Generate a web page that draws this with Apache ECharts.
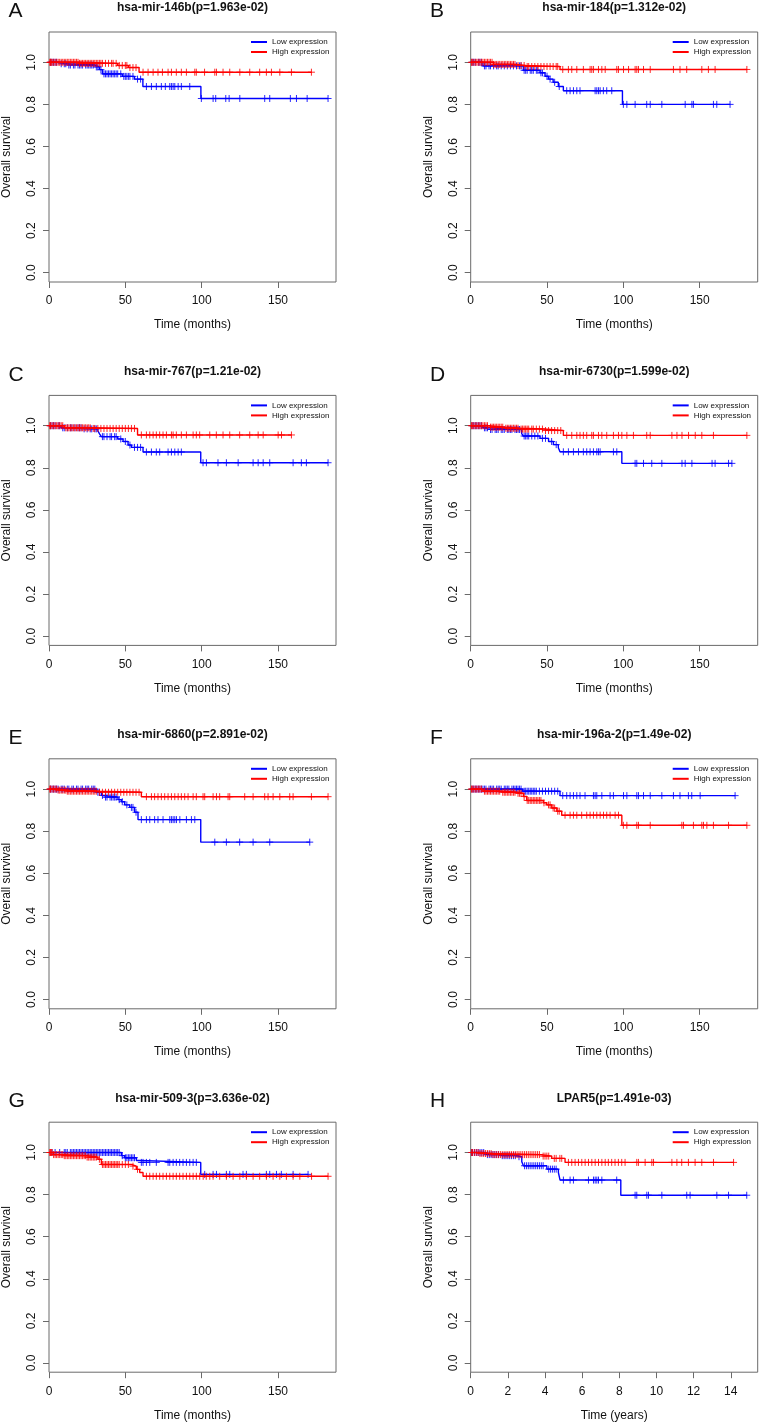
<!DOCTYPE html>
<html>
<head>
<meta charset="utf-8">
<script src="https://cdn.jsdelivr.net/npm/echarts@6/dist/echarts.min.js"></script>
<style>
html,body{margin:0;padding:0;background:#fff;}
#chart{width:759px;height:1423px;}
</style>
</head>
<body>
<div id="chart"></div>
<script>
// ---------------- DATA ----------------
const panelLetters = ['A','B','C','D','E','F','G','H'];
const panelTitles = [
  'hsa-mir-146b(p=1.963e-02)', 'hsa-mir-184(p=1.312e-02)',
  'hsa-mir-767(p=1.21e-02)', 'hsa-mir-6730(p=1.599e-02)',
  'hsa-mir-6860(p=2.891e-02)', 'hsa-mir-196a-2(p=1.49e-02)',
  'hsa-mir-509-3(p=3.636e-02)', 'LPAR5(p=1.491e-03)'
];
const xAxisTitles = ['Time (months)','Time (months)','Time (months)','Time (months)',
  'Time (months)','Time (months)','Time (months)','Time (years)'];
const yAxisTitle = 'Overall survival';
const groupNames = ['Low expression','High expression'];
const monthTicks = [0, 50, 100, 150];
const yearTicks = [0, 2, 4, 6, 8, 10, 12, 14];
const survTicks = [0, 0.2, 0.4, 0.6, 0.8, 1.0];

// Panel A
const A_low_steps = [[0,1],[6,0.993],[12,0.987],[30,0.978],[33,0.965],[35,0.945],[48,0.933],[56,0.92],[61.5,0.885],[99.5,0.828]];
const A_low_cens = [1,2,3,4,5,8,10,11,13,14,16,17,19,20,21,22,24,25,26,27,28,29,31,32,34,36,37,38,39,40,41,42,43,44,45,47,49,50,51,52,53,55,58,60,
  63.8,67.1,70.3,73.6,76.2,79.1,80.2,81.3,82.4,84.6,86.7,92.2,99.8,107.5,109.2,115.8,118,125,141.3,144.6,158.1,162.1,169.1,182.8];
const A_high_steps = [[0,1],[20,0.995],[45,0.985],[52,0.975],[59,0.953]];
const A_high_cens = [0.5,1,1.5,2,3,4,5,6,7,8,9,10,11,12,13,14,15,16,17,18,19,20,21,22,23,24,25,26,27,28,29,30,31,32,33,34,35,37,39,41,42,44,46,48,50,51,53,55,57,
  61.6,64.9,68.2,71.4,74.3,78,80.2,83.4,86.7,90,95.5,96.5,101.9,108.6,109.7,114,118.4,125,131.5,138,142.4,145.7,151.2,158.8,171.9];

// Panel B
const B_low_steps = [[0,1],[8,0.983],[34.5,0.962],[45.4,0.95],[48.7,0.934],[51,0.92],[54,0.905],[57.4,0.885],[60.7,0.865],[99.4,0.8]];
const B_low_cens = [1,2,3,5,6,7,9,10,12,13,15,17,18,20,22,24,26,28,30,32,33,35,36,37,39,40,41,43,44,46,47,50,52,55,58,
  62.9,65.1,67.3,69.5,71.6,81.5,82.6,83.7,84.8,86.9,89.1,92.4,100,102.3,107.7,115.3,117.6,125.2,140.5,144.9,145.9,159,161.2,169.9];
const B_high_steps = [[0,1],[15,0.99],[30,0.985],[36,0.98],[58.5,0.966]];
const B_high_cens = [0.5,1,2,3,4,5,6,7,8,9,10,11,12,13,14,15,16,17,18,19,20,21,22,23,24,25,26,27,28,29,31,33,35,37,38,40,42,44,46,48,50,52,54,56,57,
  60.3,64,66.2,69.5,73.8,78.2,79.3,80.4,83.7,85.9,88.1,95.7,96.8,100.1,103.4,107.7,108.8,109.9,113.2,117.6,132.8,137.1,141.5,151.4,155.7,160.1,180.9];

// Panel C
const C_low_steps = [[0,1],[8,0.99],[22,0.985],[32,0.975],[33.2,0.96],[34.3,0.948],[45,0.937],[48.5,0.925],[51.8,0.908],[54,0.897],[61.6,0.875],[99.4,0.824]];
const C_low_cens = [1,2,3,4,6,7,9,10,12,14,15,17,19,20,21,23,25,27,28,30,31,35,36,38,40,41,43,44,47,50,53,56,58,60,
  63.8,67.1,70.3,72.5,78,80.2,82.4,84.6,86.7,100.9,103.1,110.7,116.2,123.9,133.7,137,140.3,144.6,159.9,165.3,168.6,182.8];
const C_high_steps = [[0,1],[10,0.99],[28,0.987],[58,0.956]];
const C_high_cens = [0.5,1,2,3,4,5,6,7,8,9,11,12,13,14,15,16,17,18,19,20,21,22,23,24,25,26,27,29,30,32,34,36,38,40,42,44,46,48,50,52,54,56,
  60.5,63.8,66,68.2,70.3,72.5,74.7,76.9,80.2,81.3,83.4,86.7,90,94.4,96.5,98.7,105.3,109.6,114,118.4,124.9,131.5,137,140.3,150.1,152.3,158.8];

// Panel D
const D_low_steps = [[0,1],[8,0.99],[12,0.982],[33.4,0.962],[34.5,0.951],[45.4,0.94],[51,0.925],[54.2,0.91],[57.4,0.895],[58.5,0.876],[99,0.821]];
const D_low_cens = [1,2,3,4,5,6,7,9,10,11,13,14,16,17,18,20,21,22,24,25,26,27,29,30,31,32,35,36,37,38,40,42,44,47,49,53,56,
  60.7,64,67.3,70.6,73.8,76,78.2,80.4,82.6,83.7,84.8,93.5,95.7,107.7,108.8,113.2,118.6,125.2,138.4,140.5,144.9,158.1,160.1,168.9,171.1];
const D_high_steps = [[0,1],[12,0.993],[22,0.988],[32,0.984],[48,0.977],[60.7,0.954]];
const D_high_cens = [0.5,1,2,3,4,5,6,7,8,9,10,11,13,14,15,16,17,18,19,20,21,23,24,25,26,27,28,29,30,31,33,34,35,36,37,38,40,41,43,45,47,49,51,53,55,57,59,
  62.9,66.2,69.5,71.6,73.8,76,79.3,80.4,83.7,85.9,89.1,93.5,96.8,99,102.3,106.6,115.3,117.6,131.8,135.1,138.4,142.7,147.1,151.4,159,180.9];

// Panel E
const E_low_steps = [[0,1],[31,0.985],[34.3,0.97],[36,0.962],[45.2,0.95],[47.4,0.94],[49.6,0.925],[52.9,0.913],[56.1,0.89],[58.3,0.855],[99.4,0.748]];
const E_low_cens = [1,2,3,4,5,6,8,9,10,12,13,15,16,18,19,21,22,24,25,26,28,29,30,32,33,35,37,38,40,41,42,43,44,46,48,51,54,55,57,
  60.5,63.8,66,69.2,71.4,74.7,79.1,80.2,81.3,82.4,83.5,85.7,90,93.3,95.5,108.6,116.2,124.9,133.7,144.6,170.8];
const E_high_steps = [[0,1],[6,0.995],[12,0.99],[33,0.985],[60.5,0.964]];
const E_high_cens = [0.5,1,2,3,4,5,6,7,8,9,10,11,12,13,14,15,16,17,18,19,20,21,22,23,24,25,26,27,28,29,30,31,33,35,37,39,41,43,45,47,49,51,53,55,57,59,
  63.8,67.1,69.2,71.4,73.6,75.8,78,80.2,82.4,84.6,86.7,88.9,91.1,94.4,96.5,100.9,102,107.5,109.7,111.8,117.3,118.4,128.2,133.7,141.3,143.5,146.8,151.2,157.7,159.9,171.9,182.8];

// Panel F
const F_low_steps = [[0,1],[34,0.99],[58.5,0.969]];
const F_low_cens = [1,2,3,4,5,6,7,8,9,10,12,13,14,15,17,18,19,20,22,23,24,25,27,28,29,30,31,32,33,35,36,37,38,39,40,41,42,43,45,47,49,51,53,55,57,
  60.3,62.9,65.1,67.3,69.5,71.6,74.9,80.4,81.5,82.6,85.9,91.3,93.5,100.1,102.3,108.8,109.9,113.2,117.6,125.2,132.8,137.1,142.6,144.8,150.3,173.2];
const F_high_steps = [[0,1],[8,0.99],[20,0.985],[30,0.98],[34.5,0.965],[36.7,0.946],[47.6,0.935],[49.8,0.925],[53.1,0.91],[56.4,0.895],[59.6,0.876],[99,0.828]];
const F_high_cens = [0.5,1,2,3,4,5,6,7,9,10,11,12,13,14,15,16,17,18,19,21,22,23,24,25,26,27,28,29,31,32,33,35,37,38,39,40,41,42,43,44,45,46,48,51,52,54,55,57,58,
  61.8,65.1,67.3,69.5,72.7,76,78.2,80.4,82.6,84.8,87,89.1,91.3,94.6,96.8,100,102.3,108.8,109.9,117.6,138.3,139.4,145.9,151.4,152.5,154.7,159,168.9,180.9];

// Panel G
const G_low_steps = [[0,1],[47.4,0.985],[49.6,0.975],[57.2,0.962],[59.4,0.953],[99.4,0.896]];
const G_low_cens = [2,4,7,10,11,12,14,15,16,17,18,19,20,21,22,23,24,25,26,27,28,29,30,31,32,33,34,35,36,37,38,39,40,41,42,43,44,45,46,48,50,51,52,53,54,55,56,
  60.5,61.6,63.8,66,70.3,78,79.1,81.3,83.4,85.6,87.8,90,92.2,94.4,96.5,102,107.5,109.7,116.2,118.4,127.1,129.3,142.4,144.6,149,152.2,159.9,169.7];
const G_high_steps = [[0,1],[3,0.99],[10,0.985],[25,0.978],[32,0.968],[34.3,0.943],[54,0.935],[57.2,0.92],[59.4,0.905],[61.6,0.887]];
const G_high_cens = [0.5,1,1.5,2,3,4,5,6,7,8,9,10,11,12,13,14,15,16,17,18,19,20,21,22,23,24,25,26,27,28,29,30,31,33,35,36,37,38,39,40,41,42,43,44,45,46,48,50,52,55,58,
  63.8,66,68.2,70.3,72.5,74.7,76.9,79.1,81.3,83.4,85.6,87.8,90,92.2,94.4,96.5,98.7,101,103,105.3,107.5,111.8,116.2,120.6,125,129.3,133.7,138,142.4,146.8,151.2,155.5,159.9,164.3,172,182.8];

// Panel H (years)
const H_low_steps = [[0,1],[0.8,0.99],[1.6,0.985],[2.5,0.98],[2.75,0.956],[2.84,0.937],[4.1,0.921],[4.72,0.905],[4.81,0.869],[8.08,0.797]];
const H_low_cens = [0.05,0.1,0.2,0.3,0.4,0.5,0.6,0.7,0.9,1.0,1.1,1.2,1.3,1.4,1.5,1.7,1.8,1.9,2.0,2.1,2.2,2.3,2.4,2.6,2.9,3.0,3.1,3.2,3.3,3.4,3.5,3.6,3.7,3.8,3.9,4.2,4.3,4.4,4.5,4.6,
  4.99,5.35,5.53,6.34,6.61,6.7,6.79,6.88,7.06,7.86,8.85,8.94,9.48,9.57,10.29,11.63,11.81,13.25,13.88,14.86];
const H_high_steps = [[0,1],[0.5,0.995],[1.2,0.99],[3.8,0.983],[4.36,0.972],[5.08,0.953]];
const H_high_cens = [0.05,0.1,0.2,0.3,0.4,0.5,0.6,0.7,0.8,0.9,1.0,1.1,1.2,1.3,1.4,1.5,1.6,1.7,1.8,1.9,2.0,2.1,2.2,2.3,2.4,2.5,2.6,2.7,2.8,2.9,3.0,3.1,3.2,3.3,3.4,3.5,3.6,3.7,3.9,4.0,4.1,4.2,4.5,4.6,4.8,4.9,
  5.26,5.44,5.62,5.80,5.98,6.16,6.34,6.52,6.70,6.88,7.06,7.24,7.41,7.59,7.77,7.95,8.13,8.31,8.94,9.03,9.39,9.75,9.84,10.83,11.10,11.36,11.72,12.08,12.44,13.07,14.15];

// ---------------- BUILD ----------------
const panelData = [
  [A_low_steps, A_low_cens, A_high_steps, A_high_cens],
  [B_low_steps, B_low_cens, B_high_steps, B_high_cens],
  [C_low_steps, C_low_cens, C_high_steps, C_high_cens],
  [D_low_steps, D_low_cens, D_high_steps, D_high_cens],
  [E_low_steps, E_low_cens, E_high_steps, E_high_cens],
  [F_low_steps, F_low_cens, F_high_steps, F_high_cens],
  [G_low_steps, G_low_cens, G_high_steps, G_high_cens],
  [H_low_steps, H_low_cens, H_high_steps, H_high_cens]
];

const FONT = "'Liberation Sans', Arial, sans-serif";
const TXT = '#111';
const BOX = '#6a6a6a';
const colors = ['#0000FF', '#FF0000'];
const plusSymbol = 'path://M5,0L5,10M0,5L10,5';

function survAt(steps, t) {
  let s = 1;
  for (const p of steps) { if (p[0] <= t) s = p[1]; }
  return s;
}
function lineData(steps, cens) {
  const endT = Math.max(...cens, steps[steps.length - 1][0]);
  return steps.concat([[endT, steps[steps.length - 1][1]]]);
}
function censData(steps, cens) {
  return cens.map(t => [t, survAt(steps, t)]);
}

const colLeft = [49, 470.7];
const rowTop0 = 32, rowStep = 363.4;
const gridW = 287, gridH = 250;

const grids = [], xAxes = [], yAxes = [], series = [], titles = [], legends = [];

panelData.forEach((pd, i) => {
  const col = i % 2, row = Math.floor(i / 2);
  const left = colLeft[col];
  const top = rowTop0 + rowStep * row;
  const isYears = i === 7;
  grids.push({ left: left, top: top, width: gridW, height: gridH, show: true,
    borderColor: BOX, borderWidth: 1, backgroundColor: 'transparent', containLabel: false });
  const ticks = isYears ? yearTicks : monthTicks;
  xAxes.push({
    type: 'value', gridIndex: i, min: 0, max: isYears ? 15.45 : 188, position: 'bottom',
    axisLine: { show: false, onZero: false }, splitLine: { show: false },
    axisTick: { show: true, inside: false, length: 6, customValues: ticks, lineStyle: { color: BOX, width: 1 } },
    axisLabel: { customValues: ticks, fontSize: 12, color: TXT, fontFamily: FONT, margin: 13 },
    name: xAxisTitles[i], nameLocation: 'middle', nameGap: 37,
    nameTextStyle: { fontSize: 12, color: TXT, fontFamily: FONT }
  });
  yAxes.push({
    type: 'value', gridIndex: i, min: -0.044, max: 1.144, position: 'left',
    axisLine: { show: false, onZero: false }, splitLine: { show: false },
    axisTick: { show: true, inside: false, length: 6, customValues: survTicks, lineStyle: { color: BOX, width: 1 } },
    axisLabel: { customValues: survTicks, rotate: 90, fontSize: 12, color: TXT, fontFamily: FONT, margin: 11,
      formatter: v => Number(v).toFixed(1) },
    name: yAxisTitle, nameLocation: 'middle', nameGap: 36,
    nameTextStyle: { fontSize: 12, color: TXT, fontFamily: FONT }
  });
  for (let g = 0; g < 2; g++) {
    const steps = pd[g * 2], cens = pd[g * 2 + 1];
    series.push({
      type: 'line', name: groupNames[g], xAxisIndex: i, yAxisIndex: i,
      step: 'end', showSymbol: false, symbol: 'none', color: colors[g],
      lineStyle: { color: colors[g], width: 1.4 }, data: lineData(steps, cens),
      silent: true, z: 2 + g * 2
    });
    series.push({
      type: 'scatter', name: groupNames[g] + ' censored', xAxisIndex: i, yAxisIndex: i,
      symbol: plusSymbol, symbolSize: 7,
      itemStyle: { color: 'rgba(0,0,0,0)', borderColor: colors[g], borderWidth: 1, opacity: 0.85 },
      data: censData(steps, cens), silent: true, z: 3 + g * 2
    });
  }
  titles.push({ text: panelTitles[i], left: left + gridW / 2, top: 2 + rowStep * row, textAlign: 'center',
    padding: 0, textStyle: { fontSize: 12, fontWeight: 'bold', color: TXT, fontFamily: FONT } });
  titles.push({ text: panelLetters[i], left: col === 0 ? 8.5 : 430, top: 1 + rowStep * row,
    padding: 0, textStyle: { fontSize: 21, fontWeight: 'normal', color: TXT, fontFamily: FONT } });
  legends.push({
    data: groupNames, orient: 'vertical', left: left + 202, top: 37 + rowStep * row,
    itemWidth: 16, itemHeight: 2, icon: 'rect', itemGap: 0, padding: 0, selectedMode: false,
    textStyle: { fontSize: 8, lineHeight: 10, color: TXT, fontFamily: FONT }
  });
});

const chart = echarts.init(document.getElementById('chart'), null, { renderer: 'canvas' });
chart.setOption({
  animation: false,
  backgroundColor: '#ffffff',
  title: titles,
  legend: legends,
  grid: grids,
  xAxis: xAxes,
  yAxis: yAxes,
  series: series
});
</script>
</body>
</html>
